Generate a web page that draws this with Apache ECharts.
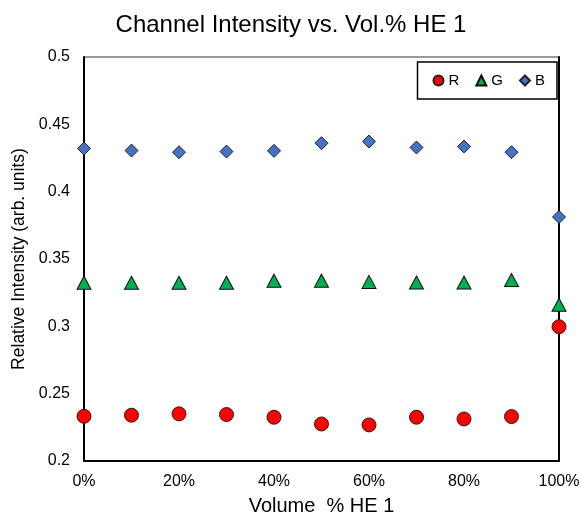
<!DOCTYPE html>
<html><head><meta charset="utf-8">
<script src="https://cdn.jsdelivr.net/npm/echarts@6/dist/echarts.min.js"></script>
<style>html,body{margin:0;padding:0;background:#fff}#c{width:582px;height:516px}</style>
</head><body><div id="c"></div>
<script>
const volumes = [0,10,20,30,40,50,60,70,80,90,100];
const rValues = [0.2332,0.2340,0.2350,0.2345,0.2325,0.2275,0.2268,0.2325,0.2312,0.2330,0.2997];
const gValues = [0.3324,0.3323,0.3323,0.3323,0.3339,0.3339,0.3330,0.3325,0.3325,0.3344,0.3160];
const bValues = [0.4320,0.4305,0.4293,0.4298,0.4303,0.4360,0.4372,0.4328,0.4335,0.4293,0.3812];
const seriesNames = ['R','G','B'];
const yTicks = {min:0.2, max:0.5, interval:0.05};
const xTicks = {min:0, max:100, interval:20};

const font = 'Liberation Sans, Arial, sans-serif';
function pts(vals){ return volumes.map((x,i)=>[x, vals[i]]); }
const chart = echarts.init(document.getElementById('c'), null, {renderer:'canvas'});
chart.setOption({
  backgroundColor:'#fff',
  animation:false,
  title:{text:'Channel Intensity vs. Vol.% HE 1', left:'center', top:8,
    textStyle:{fontFamily:font, fontSize:24, fontWeight:'normal', color:'#000'}},
  legend:{
    right:25, top:62, orient:'horizontal',
    data:[{name:seriesNames[0],icon:'circle'},{name:seriesNames[1],icon:'triangle'},{name:seriesNames[2],icon:'diamond'}],
    itemWidth:10, itemHeight:10, itemGap:16,
    borderColor:'#000', borderWidth:1.5, padding:[11,12,11,15],
    textStyle:{fontFamily:font, fontSize:15, color:'#000'}
  },
  grid:{left:84, right:23, top:57, bottom:55, show:true, borderColor:'#333', borderWidth:1,
    outerBoundsMode:'none', containLabel:false},
  xAxis:{type:'value', min:xTicks.min, max:xTicks.max, interval:xTicks.interval,
    name:'Volume  % HE 1', nameLocation:'middle', nameGap:35,
    nameTextStyle:{fontFamily:font, fontSize:20, color:'#000'},
    axisLine:{lineStyle:{color:'#000', width:2}}, axisTick:{show:false}, splitLine:{show:false},
    axisLabel:{formatter:'{value}%', fontFamily:font, fontSize:16, color:'#000', margin:13}},
  yAxis:[{type:'value', min:yTicks.min, max:yTicks.max, interval:yTicks.interval,
    name:'Relative Intensity (arb. units)', nameLocation:'middle', nameGap:53,
    nameTextStyle:{fontFamily:font, fontSize:17.5, color:'#000'},
    axisLine:{show:true, lineStyle:{color:'#000', width:2}}, axisTick:{show:false}, splitLine:{show:false},
    axisLabel:{fontFamily:font, fontSize:16, color:'#000', margin:14}},
    {type:'value', position:'right', min:yTicks.min, max:yTicks.max, interval:yTicks.interval,
    axisLine:{show:true, lineStyle:{color:'#000', width:2}}, axisTick:{show:false}, splitLine:{show:false},
    axisLabel:{show:false}}],
  series:[
    {name:'R', type:'scatter', symbol:'circle', symbolSize:14, clip:false, data:pts(rValues), z:5,
      itemStyle:{color:'#FF0000', borderColor:'#222', borderWidth:1, opacity:1}},
    {name:'G', type:'scatter', symbol:'triangle', symbolSize:[14,13], clip:false, data:pts(gValues), z:5,
      itemStyle:{color:'#00B050', borderColor:'#111', borderWidth:1, opacity:1}},
    {name:'B', type:'scatter', symbol:'diamond', symbolSize:13, clip:false, data:pts(bValues), z:5,
      itemStyle:{color:'#4472C4', borderColor:'#222', borderWidth:1, opacity:1}}
  ]
});
</script></body></html>
